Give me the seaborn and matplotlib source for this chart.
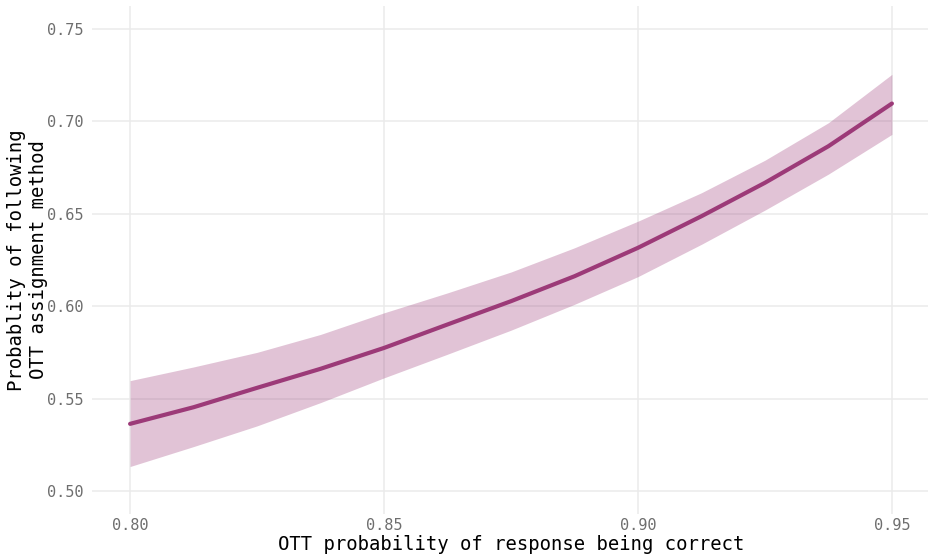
import matplotlib
matplotlib.use("Agg")
import matplotlib.pyplot as plt
import pandas as pd
import seaborn as sns

# values
ott_prob = [0.80, 0.8125, 0.825, 0.8375, 0.85, 0.8625, 0.875,
            0.8875, 0.90, 0.9125, 0.925, 0.9375, 0.95]
p_follow = [0.5363, 0.5453, 0.5558, 0.5661, 0.5774, 0.5901, 0.6027,
            0.6162, 0.6316, 0.6487, 0.6668, 0.6866, 0.7097]
ci_low = [0.5132, 0.5240, 0.5352, 0.5478, 0.5612, 0.5740, 0.5870,
          0.6010, 0.6160, 0.6335, 0.6520, 0.6715, 0.6930]
ci_high = [0.5597, 0.5671, 0.5750, 0.5847, 0.5964, 0.6072, 0.6185,
           0.6316, 0.6460, 0.6614, 0.6790, 0.6993, 0.7255]

x_ticks = [0.80, 0.85, 0.90, 0.95]
y_ticks = [0.50, 0.55, 0.60, 0.65, 0.70, 0.75]

line_color = "#9c3a78"
grid_color = "#ebebeb"

sns.set_style("white")
plt.rcParams["font.family"] = ["DejaVu Sans Mono"]

data = pd.DataFrame({
    "ott": ott_prob,
    "p": p_follow,
    "lo": ci_low,
    "hi": ci_high,
})

fig = plt.figure(figsize=(9.29, 5.58), dpi=100)
ax = fig.add_axes([92 / 929, 1 - 514 / 558, 838 / 929, 508 / 558])

ax.fill_between(data["ott"], data["lo"], data["hi"],
                color=line_color, alpha=0.3, linewidth=0, zorder=2)
sns.lineplot(data=data, x="ott", y="p", color=line_color,
             linewidth=3, ax=ax, zorder=3)

ax.set_xlim(0.7925, 0.9575)
ax.set_ylim(0.4875, 0.7625)
ax.set_xticks(x_ticks)
ax.set_yticks(y_ticks)
ax.set_xticklabels([f"{v:.2f}" for v in x_ticks])
ax.set_yticklabels([f"{v:.2f}" for v in y_ticks])
ax.grid(True, color=grid_color, linewidth=1.1, zorder=0)
ax.set_axisbelow(True)
for s in ax.spines.values():
    s.set_visible(False)
ax.tick_params(axis="both", length=0, labelsize=11, labelcolor="#6e6e6e")
ax.tick_params(axis="x", pad=3)
ax.tick_params(axis="y", pad=6)

ax.set_xlabel("OTT probability of response being correct", fontsize=13.6,
              color="black", labelpad=1)
ax.set_ylabel("Probablity of following\nOTT assignment method", fontsize=13.6,
              color="black", linespacing=1.25)
ax.yaxis.set_label_coords(-0.052, 0.5)

fig.savefig("out.png", dpi=100)
